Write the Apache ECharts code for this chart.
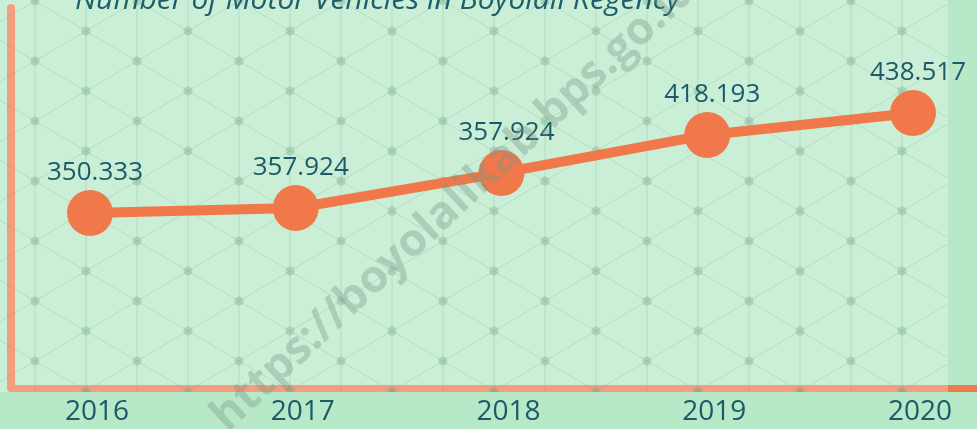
<!DOCTYPE html>
<html>
<head>
<meta charset="utf-8">
<script src="https://cdn.jsdelivr.net/npm/echarts@6/dist/echarts.min.js"></script>
<style>
    html, body { margin: 0; padding: 0; background: #b7e8c7; }
    #main { width: 977px; height: 429px; }
</style>
</head>
<body>
<div id="main"></div>
<script>
// years and vehicle counts (thousands)
var years = ['2016', '2017', '2018', '2019', '2020'];
var vehicles = [350.3, 354.7, 385.6, 419.1, 438.5];
// labels as printed on the picture (2018 repeats 2017's value there)
var valueLabels = ['350.333', '357.924', '357.924', '418.193', '438.517'];
var titleText = 'Number of Motor Vehicles in Boyolali Regency';
var watermark = 'https://boyolalikab.bps.go.id';

// triangle lattice used as the background texture
function makeTile() {
    var c = document.createElement('canvas');
    c.width = 102;
    c.height = 60;
    var ctx = c.getContext('2d');
    ctx.fillStyle = 'rgba(255,255,255,0.27)';
    ctx.fillRect(0, 0, 102, 60);
    var pts = [];
    for (var i = -1; i <= 1; i++) {
        for (var j = -1; j <= 2; j++) {
            pts.push([35 + 102 * i, 1 + 60 * j]);
            pts.push([86 + 102 * i, 31 + 60 * j]);
        }
    }
    ctx.strokeStyle = 'rgba(110,160,135,0.22)';
    ctx.lineWidth = 1;
    pts.forEach(function (p) {
        ctx.beginPath();
        ctx.moveTo(p[0], p[1]);
        ctx.lineTo(p[0] + 51, p[1] + 30);
        ctx.moveTo(p[0], p[1]);
        ctx.lineTo(p[0] + 51, p[1] - 30);
        ctx.moveTo(p[0], p[1] - 30);
        ctx.lineTo(p[0], p[1] + 30);
        ctx.stroke();
    });
    ctx.fillStyle = 'rgba(110,160,135,0.33)';
    pts.forEach(function (p) {
        ctx.beginPath();
        ctx.arc(p[0], p[1], 4.5, 0, Math.PI * 2);
        ctx.fill();
    });
    return c;
}

var myChart = echarts.init(document.getElementById('main'));

var option = {
    backgroundColor: '#b7e8c7',
    title: {
        text: titleText,
        left: 70,
        top: -20,
        textStyle: {
            fontFamily: 'Open Sans',
            fontStyle: 'italic',
            fontWeight: 'normal',
            fontSize: 30,
            color: '#1d5e6d'
        }
    },
    grid: [
        // data grid: first and last year sit on its edges
        {left: 90, right: 64, top: 8, bottom: 41},
        // frame grid: only carries the orange axis lines
        {left: 11, right: 0, top: 8, bottom: 41}
    ],
    xAxis: [
        {
            type: 'category',
            gridIndex: 0,
            data: years,
            boundaryGap: false,
            axisLine: {show: false},
            axisTick: {show: false},
            axisLabel: {
                color: '#1b5a6a',
                fontFamily: 'Open Sans',
                fontSize: 28,
                margin: 10,
                padding: [0, 0, 0, 14]
            }
        },
        {
            type: 'value',
            gridIndex: 1,
            min: 0,
            max: 1,
            axisLine: {show: true, lineStyle: {color: '#ee7a50', width: 7}},
            axisTick: {show: false},
            axisLabel: {show: false},
            splitLine: {show: false}
        }
    ],
    yAxis: [
        {
            type: 'value',
            gridIndex: 0,
            min: 196,
            max: 531,
            axisLine: {show: false},
            axisTick: {show: false},
            axisLabel: {show: false},
            splitLine: {show: false}
        },
        {
            type: 'value',
            gridIndex: 1,
            min: 0,
            max: 1,
            axisLine: {show: true, lineStyle: {color: '#ee7a50', width: 8}},
            axisTick: {show: false},
            axisLabel: {show: false},
            splitLine: {show: false}
        }
    ],
    graphic: [
        {
            type: 'rect',
            z: 1,
            silent: true,
            shape: {x: 0, y: 0, width: 948, height: 392},
            style: {fill: {image: makeTile(), repeat: 'repeat'}}
        },
        {
            type: 'text',
            z: 20,
            silent: true,
            x: 234,
            y: 440,
            rotation: Math.PI * 43 / 180,
            style: {
                text: watermark,
                fontFamily: 'Open Sans',
                fontWeight: 'bold',
                fontSize: 45,
                fill: 'rgba(120,150,130,0.36)',
                align: 'left',
                verticalAlign: 'bottom'
            }
        }
    ],
    series: [
        {
            type: 'line',
            xAxisIndex: 0,
            yAxisIndex: 0,
            z: 5,
            data: vehicles,
            symbol: 'circle',
            symbolSize: 46,
            itemStyle: {color: '#f0784b'},
            lineStyle: {color: '#f0784b', width: 10},
            label: {
                show: true,
                position: 'top',
                distance: 4,
                offset: [5, 0],
                color: '#1b5a6a',
                fontFamily: 'Open Sans',
                fontSize: 26,
                formatter: function (p) {
                    return valueLabels[p.dataIndex];
                }
            }
        }
    ]
};

myChart.setOption(option);
</script>
</body>
</html>
